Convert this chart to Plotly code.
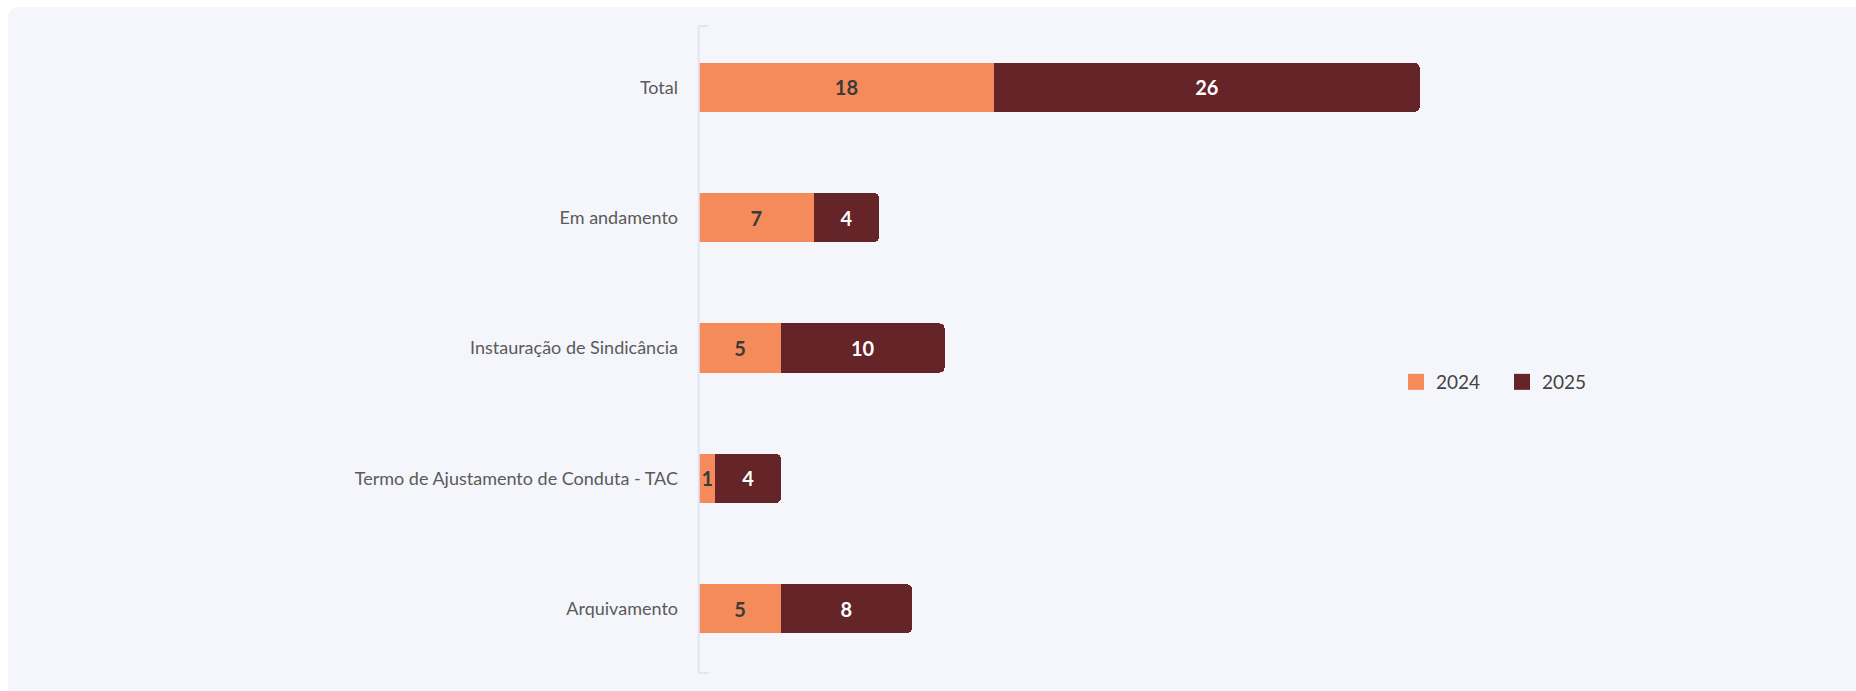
import plotly.graph_objects as go

categories = ["Total", "Em andamento", "Instauração de Sindicância",
              "Termo de Ajustamento de Conduta - TAC", "Arquivamento"]
values_2024 = [18, 7, 5, 1, 5]
values_2025 = [26, 4, 10, 4, 8]
series_names = ["2024", "2025"]

color_2024 = "#F58B5A"
color_2025 = "#652427"
card_color = "#F5F6FB"
axis_color = "#E2E5F5"

W, H = 1856, 691
L, R, T, B = 699, 338, 22, 17
PW, PH = W - L - R, H - T - B
XMAX = 50


def px2x(px):
    return (px - L) / PW


def px2y(py):
    return (H - B - py) / PH


fig = go.Figure()
fig.add_trace(go.Bar(
    y=categories, x=values_2024, name=series_names[0], orientation="h",
    marker=dict(color=color_2024, line=dict(width=0), cornerradius=5),
    texttemplate="%{x}", textposition="inside", insidetextanchor="middle",
    textangle=0, insidetextfont=dict(color="#3B3B3B", size=20, family="Lato", weight=700),
    showlegend=False, hoverinfo="skip",
))
fig.add_trace(go.Bar(
    y=categories, x=values_2025, name=series_names[1], orientation="h",
    marker=dict(color=color_2025, line=dict(width=0)),
    texttemplate="%{x}", textposition="inside", insidetextanchor="middle",
    textangle=0, insidetextfont=dict(color="#FFFFFF", size=20, family="Lato", weight=700),
    showlegend=False, hoverinfo="skip",
))
# legend entries
for name, col in zip(series_names, [color_2024, color_2025]):
    fig.add_trace(go.Scatter(
        x=[None], y=[None], mode="markers", name=name,
        marker=dict(symbol="square", size=18, color=col),
        showlegend=True,
    ))

# card background with rounded left corners
r = 12
x0, x1, y0, y1 = 8, 1880, 7, 720
path = (
    f"M {px2x(x0 + r)},{px2y(y0)} L {px2x(x1)},{px2y(y0)} L {px2x(x1)},{px2y(y1)} "
    f"L {px2x(x0 + r)},{px2y(y1)} Q {px2x(x0)},{px2y(y1)} {px2x(x0)},{px2y(y1 - r)} "
    f"L {px2x(x0)},{px2y(y0 + r)} Q {px2x(x0)},{px2y(y0)} {px2x(x0 + r)},{px2y(y0)} Z"
)
ax = 698.7
shapes = [
    dict(type="path", xref="paper", yref="paper", path=path,
         fillcolor=card_color, line=dict(width=0), layer="below"),
    dict(type="line", xref="paper", yref="paper", x0=px2x(ax), x1=px2x(ax + 10),
         y0=px2y(26), y1=px2y(26), line=dict(color=axis_color, width=2)),
    dict(type="line", xref="paper", yref="paper", x0=px2x(ax), x1=px2x(ax + 10),
         y0=px2y(673), y1=px2y(673), line=dict(color=axis_color, width=2)),
    dict(type="line", xref="paper", yref="paper", x0=px2x(ax), x1=px2x(ax),
         y0=px2y(673), y1=px2y(26), line=dict(color=axis_color, width=2)),
]

fig.update_layout(
    width=W, height=H,
    margin=dict(l=L, r=R, t=T, b=B, pad=0),
    barmode="stack", bargap=0.624,
    paper_bgcolor="#FFFFFF", plot_bgcolor="rgba(0,0,0,0)",
    font=dict(family="Lato", color="#555555"),
    shapes=shapes,
    uniformtext=dict(minsize=20, mode="show"),
    legend=dict(orientation="h", traceorder="normal",
                x=px2x(1396), xanchor="left",
                y=px2y(382), yanchor="middle",
                entrywidth=61, entrywidthmode="pixels",
                font=dict(size=19, color="#444444", family="Lato"),
                bgcolor="rgba(0,0,0,0)", itemclick=False),
    xaxis=dict(range=[0, XMAX], visible=False, showgrid=False, zeroline=False),
    yaxis=dict(autorange="reversed", showline=False, showgrid=False, zeroline=False,
               ticks="", ticklabelstandoff=20,
               tickfont=dict(size=18, color="#5A5A5A", family="Lato")),
)

fig.write_html(
    "out.html",
    config={"displayModeBar": False},
    post_script="document.body.style.margin='0';document.body.style.overflow='hidden';",
)
